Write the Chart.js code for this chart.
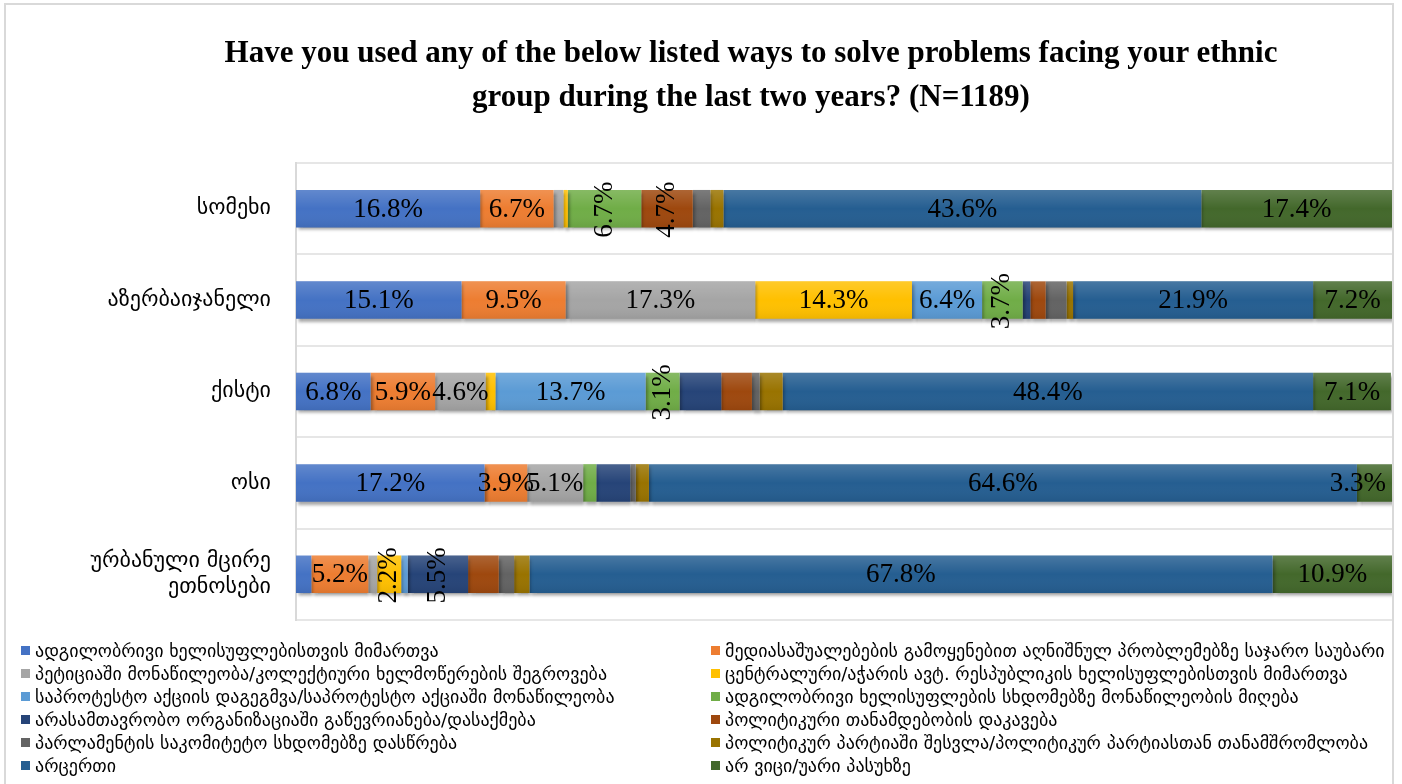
<!DOCTYPE html>
<html>
<head>
<meta charset="utf-8">
<script src="https://cdn.jsdelivr.net/npm/chart.js@4.4.1/dist/chart.umd.min.js"></script>
<style>
  html, body { margin: 0; padding: 0; background: #fff; }
  #wrap { position: relative; width: 1402px; height: 784px; overflow: hidden; }
  #title { position: absolute; left: 100px; width: 1302px; top: 30px; text-align: center;
           font-family: 'Liberation Serif', serif; font-weight: bold; font-size: 31px; line-height: 44px; color: #000; }
  #legend { position: absolute; left: 0; top: 0; width: 1402px; height: 784px; pointer-events: none;
            font-family: 'DejaVu Sans', sans-serif; font-size: 18px; color: #000; }
  .item { position: absolute; white-space: nowrap; display: flex; align-items: center; height: 22px; }
  .item i { display: inline-block; width: 9px; height: 9px; margin-right: 5px; }
</style>
</head>
<body>
<div id="wrap">
  <canvas id="chart" width="1402" height="784"></canvas>
  <div id="title"></div>
  <div id="legend"></div>
</div>
<script>
const titleLines = ['Have you used any of the below listed ways to solve problems facing your ethnic',
                    'group during the last two years? (N=1189)'];

const groups = ['სომეხი', 'აზერბაიჯანელი', 'ქისტი', 'ოსი', ['ურბანული მცირე', 'ეთნოსები']];

const seriesNames = [
  'ადგილობრივი ხელისუფლებისთვის მიმართვა',
  'მედიასაშუალებების გამოყენებით აღნიშნულ პრობლემებზე საჯარო საუბარი',
  'პეტიციაში მონაწილეობა/კოლექტიური ხელმოწერების შეგროვება',
  'ცენტრალური/აჭარის ავტ. რესპუბლიკის ხელისუფლებისთვის მიმართვა',
  'საპროტესტო აქციის დაგეგმვა/საპროტესტო აქციაში მონაწილეობა',
  'ადგილობრივი ხელისუფლების სხდომებზე მონაწილეობის მიღება',
  'არასამთავრობო ორგანიზაციაში გაწევრიანება/დასაქმება',
  'პოლიტიკური თანამდებობის დაკავება',
  'პარლამენტის საკომიტეტო სხდომებზე დასწრება',
  'პოლიტიკურ პარტიაში შესვლა/პოლიტიკურ პარტიასთან თანამშრომლობა',
  'არცერთი',
  'არ ვიცი/უარი პასუხზე'
];

// one array per answer, values per group (%)
const localGov      = [16.8, 15.1, 6.8, 17.2, 1.4];
const media         = [6.7, 9.5, 5.9, 3.9, 5.2];
const petition      = [0.9, 17.3, 4.6, 5.1, 0.8];
const centralGov    = [0.4, 14.3, 0.9, 0, 2.2];
const protest       = [0, 6.4, 13.7, 0, 0.6];
const localSessions = [6.7, 3.7, 3.1, 1.2, 0];
const ngo           = [0, 0.7, 3.8, 3.1, 5.5];
const politicalPost = [4.7, 1.4, 2.8, 0, 2.8];
const parliament    = [1.6, 1.9, 0.7, 0.5, 1.4];
const party         = [1.2, 0.6, 2.1, 1.2, 1.4];
const noneOfThem    = [43.6, 21.9, 48.4, 64.6, 67.8];
const dontKnow      = [17.4, 7.2, 7.1, 3.3, 10.9];

const seriesValues = [localGov, media, petition, centralGov, protest, localSessions,
                      ngo, politicalPost, parliament, party, noneOfThem, dontKnow];

// which value labels appear ("group:series"), and which of them stand upright
const shownLabels = ['0:0','0:1','0:5','0:7','0:10','0:11',
                     '1:0','1:1','1:2','1:3','1:4','1:5','1:10','1:11',
                     '2:0','2:1','2:2','2:4','2:5','2:10','2:11',
                     '3:0','3:1','3:2','3:10','3:11',
                     '4:1','4:3','4:6','4:10','4:11'];
const uprightLabels = ['0:5','0:7','1:5','2:5','4:3','4:6'];

const colors = ['#4472C4','#ED7D31','#A5A5A5','#FFC000','#5B9BD5','#70AD47',
                '#264478','#9E480E','#636363','#997300','#255E91','#43682B'];

const datasets = seriesNames.map((name, i) => ({
  label: name,
  data: seriesValues[i],
  backgroundColor: colors[i],
  borderWidth: 0,
  categoryPercentage: 1,
  barPercentage: 0.41
}));

const barLook = {
  id: 'barLook',
  beforeDraw(chart) {
    const ctx = chart.ctx;
    ctx.save();
    ctx.strokeStyle = '#d9d9d9';
    ctx.lineWidth = 2;
    ctx.strokeRect(5, 4, 1388, 800);
    ctx.restore();
  },
  beforeDatasetsDraw(chart) {
    const ctx = chart.ctx;
    ctx.shadowColor = 'rgba(0,0,0,0.35)';
    ctx.shadowBlur = 3;
    ctx.shadowOffsetX = 2;
    ctx.shadowOffsetY = 3;
  },
  afterDatasetsDraw(chart) {
    const ctx = chart.ctx;
    ctx.shadowColor = 'rgba(0,0,0,0)';
    ctx.shadowBlur = 0;
    ctx.shadowOffsetX = 0;
    ctx.shadowOffsetY = 0;
    const area = chart.chartArea;
    ctx.save();
    // light sheen over each segment
    chart.data.datasets.forEach((ds, si) => {
      chart.getDatasetMeta(si).data.forEach((bar, ci) => {
        if (!ds.data[ci]) return;
        const p = bar.getProps(['x', 'y', 'base', 'height'], true);
        const top = p.y - p.height / 2;
        const g = ctx.createLinearGradient(0, top, 0, top + p.height);
        g.addColorStop(0, 'rgba(255,255,255,0.16)');
        g.addColorStop(0.5, 'rgba(255,255,255,0)');
        g.addColorStop(1, 'rgba(0,0,0,0.07)');
        ctx.fillStyle = g;
        ctx.fillRect(p.base, top, p.x - p.base, p.height);
      });
    });
    // value labels
    ctx.font = '27px "Liberation Serif", serif';
    ctx.fillStyle = '#000';
    ctx.textBaseline = 'middle';
    ctx.textAlign = 'center';
    chart.data.datasets.forEach((ds, si) => {
      chart.getDatasetMeta(si).data.forEach((bar, ci) => {
        const key = ci + ':' + si;
        if (!shownLabels.includes(key)) return;
        const p = bar.getProps(['x', 'y', 'base'], true);
        const text = ds.data[ci].toFixed(1) + '%';
        let cx = (p.base + p.x) / 2;
        if (uprightLabels.includes(key)) {
          ctx.save();
          ctx.translate(cx, p.y + 1);
          ctx.rotate(-Math.PI / 2);
          ctx.fillText(text, 0, 0);
          ctx.restore();
        } else {
          const w = ctx.measureText(text).width;
          if (cx + w / 2 > area.right - 6) cx = area.right - 6 - w / 2;
          ctx.fillText(text, cx, p.y + 1);
        }
      });
    });
    ctx.restore();
  }
};

new Chart(document.getElementById('chart'), {
  type: 'bar',
  data: { labels: groups, datasets: datasets },
  options: {
    indexAxis: 'y',
    responsive: false,
    animation: false,
    layout: { padding: { left: 6, right: 10, top: 163, bottom: 164 } },
    plugins: {
      legend: { display: false },
      tooltip: { enabled: false },
      title: { display: false }
    },
    scales: {
      x: { stacked: true, min: 0, max: 100, display: false },
      y: {
        stacked: true,
        afterFit(scale) { scale.width = 290; },
        grid: { color: '#e6e6e6', lineWidth: 2, drawTicks: false },
        border: { color: '#d9d9d9', width: 2 },
        ticks: { color: '#000', padding: 25, font: { family: '"DejaVu Sans", sans-serif', size: 22 } }
      }
    }
  },
  plugins: [barLook]
});

// title above the plot, centred over the bars
document.getElementById('title').innerHTML =
  titleLines.map(t => t.replace(/&/g, '&amp;').replace(/</g, '&lt;')).join('<br>');

// two-column legend under the plot
const legend = document.getElementById('legend');
seriesNames.forEach((name, i) => {
  const el = document.createElement('div');
  el.className = 'item';
  el.style.left = (i % 2 === 0 ? 21 : 711) + 'px';
  el.style.top = (639 + Math.floor(i / 2) * 23) + 'px';
  el.innerHTML = '<i style="background:' + colors[i] + '"></i><span></span>';
  el.querySelector('span').textContent = name;
  legend.appendChild(el);
});
</script>
</body>
</html>
